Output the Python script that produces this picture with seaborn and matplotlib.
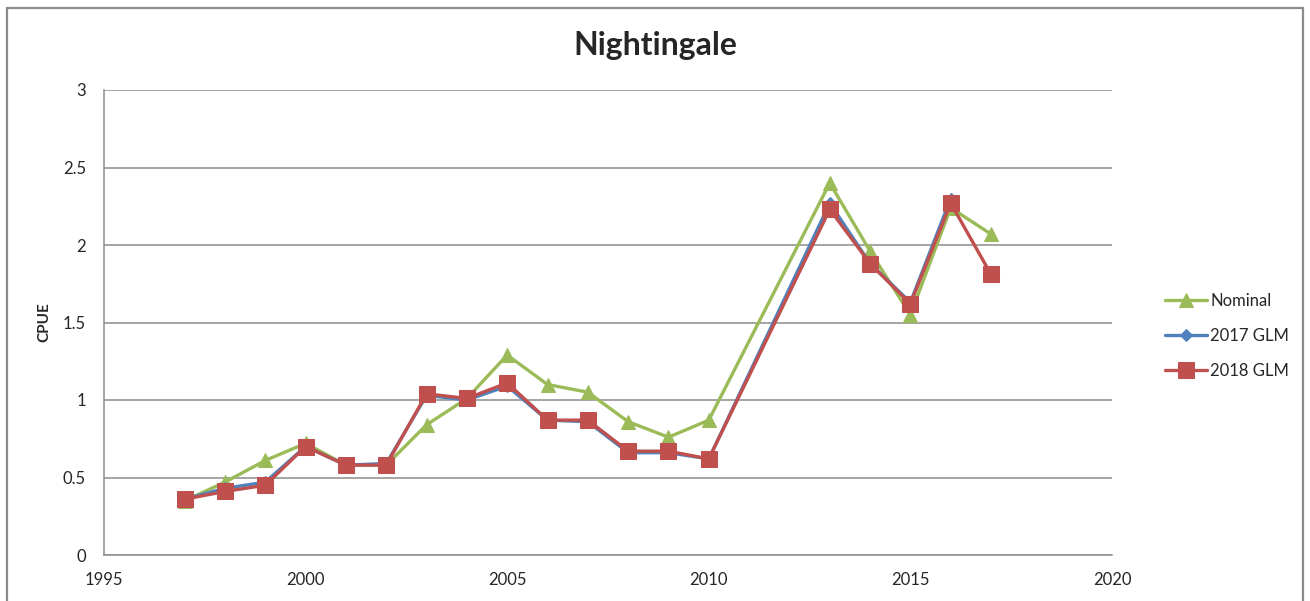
import numpy as np
import pandas as pd
import matplotlib
matplotlib.use('Agg')
import matplotlib.pyplot as plt
from matplotlib.patches import Rectangle
from matplotlib.ticker import MultipleLocator
import seaborn as sns

# Values
years = [1997, 1998, 1999, 2000, 2001, 2002, 2003, 2004, 2005, 2006,
         2007, 2008, 2009, 2010, 2013, 2014, 2015, 2016, 2017]
nominal = [0.35, 0.47, 0.61, 0.72, 0.58, 0.58, 0.84, 1.01, 1.29, 1.10,
           1.05, 0.86, 0.76, 0.87, 2.40, 1.96, 1.55, 2.24, 2.07]
glm_2018 = [0.36, 0.41, 0.45, 0.70, 0.58, 0.58, 1.04, 1.01, 1.11, 0.87,
            0.87, 0.67, 0.67, 0.62, 2.23, 1.88, 1.62, 2.27, 1.81]
years_2017 = years[:-1]
glm_2017 = [0.36, 0.43, 0.47, 0.70, 0.58, 0.59, 1.03, 1.00, 1.09, 0.87,
            0.86, 0.66, 0.66, 0.62, 2.27, 1.88, 1.63, 2.30]

series = [
    ('Nominal', years, nominal, '#9BBB59', '^', 10),
    ('2017 GLM', years_2017, glm_2017, '#4F81BD', 'D', 6),
    ('2018 GLM', years, glm_2018, '#C0504D', 's', 11),
]

sns.set_style('white')
plt.rcParams['font.family'] = ['Lato', 'DejaVu Sans']

fig = plt.figure(figsize=(13.1, 6.01), dpi=100)
ax = fig.add_axes([104 / 1310, 1 - 555 / 601, 1008 / 1310, 465 / 601])

for name, xs, ys, color, marker, ms in series:
    df = pd.DataFrame({'year': xs, 'cpue': ys})
    sns.lineplot(data=df, x='year', y='cpue', ax=ax, color=color, marker=marker,
                 markersize=ms, markeredgecolor=color, linewidth=2.4,
                 label=name, sort=False, legend=False)

ax.set_xlim(1995, 2020)
ax.set_ylim(0, 3)
ax.xaxis.set_major_locator(MultipleLocator(5))
ax.xaxis.set_minor_locator(MultipleLocator(1))
ax.yaxis.set_major_locator(MultipleLocator(0.5))
ax.yaxis.set_major_formatter(matplotlib.ticker.FuncFormatter(lambda v, p: f'{v:g}'))
ax.grid(axis='y', color='#8c8c8c', linewidth=1.1)
ax.set_axisbelow(True)
for side in ['top', 'right']:
    ax.spines[side].set_visible(False)
for side in ['left', 'bottom']:
    ax.spines[side].set_color('#8c8c8c')
    ax.spines[side].set_linewidth(1.1)

ax.tick_params(axis='x', which='both', direction='in', length=4, width=0.8,
               color='#8c8c8c', pad=12, labelsize=12)
ax.tick_params(axis='y', length=0, pad=13, labelsize=12)

ax.set_xlabel('')
ax.set_ylabel('CPUE', fontsize=11, fontweight='bold')
ax.yaxis.set_label_coords(-53 / 1008, 0.5)

fig.text(655 / 1310, 1 - 46 / 601, 'Nightingale', ha='center', va='center',
         fontsize=23, fontweight='bold')

handles, labels = ax.get_legend_handles_labels()
fig.legend(handles, labels, loc='center left', bbox_to_anchor=(1150 / 1310, 1 - 336 / 601),
           frameon=False, fontsize=12, handlelength=2.5, labelspacing=1.15,
           handletextpad=0.2)

fig.patches.append(Rectangle((7 / 1310, -0.05), 1296 / 1310, 0.05 + 1 - 8 / 601,
                             transform=fig.transFigure, fill=False,
                             edgecolor='#8c8c8c', linewidth=1.6))

fig.savefig('out.png', dpi=100)
